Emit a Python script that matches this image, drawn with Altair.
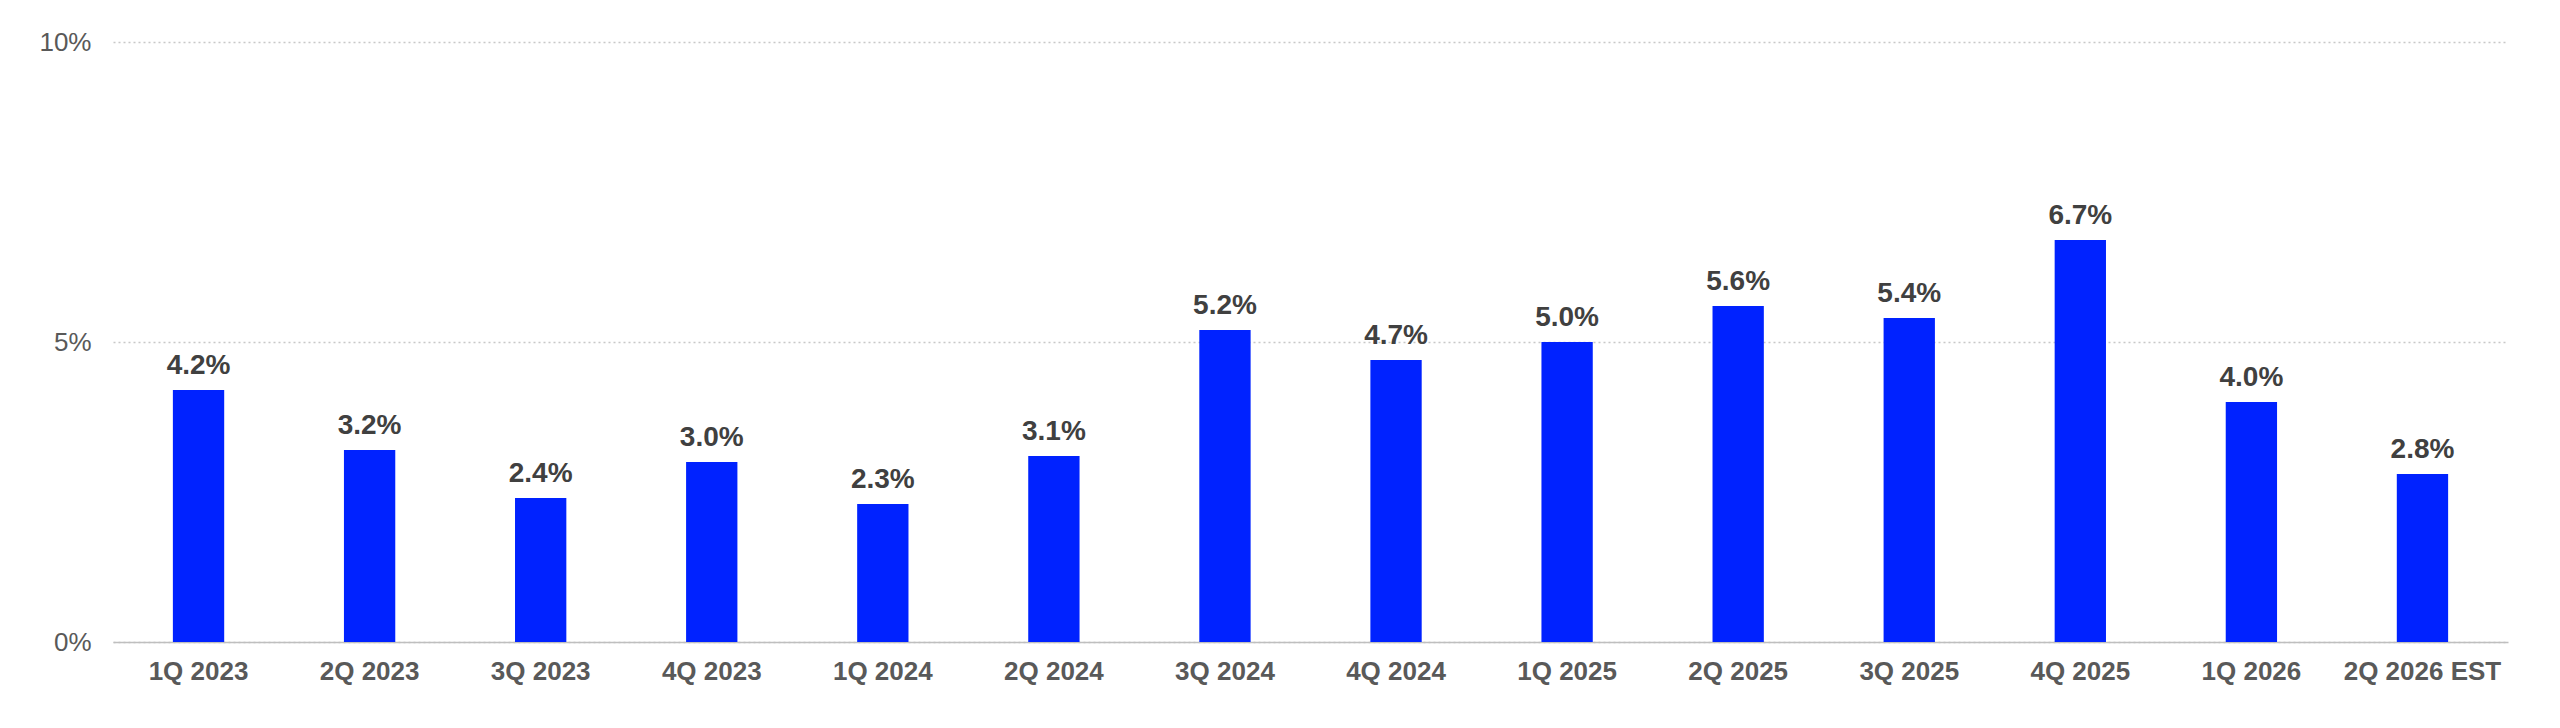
import altair as alt
import pandas as pd

quarters = ["1Q 2023", "2Q 2023", "3Q 2023", "4Q 2023", "1Q 2024", "2Q 2024", "3Q 2024",
            "4Q 2024", "1Q 2025", "2Q 2025", "3Q 2025", "4Q 2025", "1Q 2026", "2Q 2026 EST"]
values = [4.2, 3.2, 2.4, 3.0, 2.3, 3.1, 5.2, 4.7, 5.0, 5.6, 5.4, 6.7, 4.0, 2.8]

df = pd.DataFrame({"q": quarters, "v": [v / 100 for v in values]})
df["label"] = [f"{v:.1f}%" for v in values]

base = alt.Chart(df).encode(
    x=alt.X("q:N", sort=quarters, title=None,
            scale=alt.Scale(paddingInner=0.7, paddingOuter=0.35),
            axis=alt.Axis(labelAngle=0, labelFont="Liberation Sans", labelFontWeight="bold",
                          labelFontSize=26, labelColor="#595959", labelPadding=16,
                          ticks=False, domainColor="#bfbfbf", domainWidth=1.5)),
    y=alt.Y("v:Q", title=None,
            scale=alt.Scale(domain=[0, 0.1], nice=False),
            axis=alt.Axis(values=[0, 0.05, 0.1], format=".0%", labelFont="Liberation Sans",
                          labelFontSize=26, labelColor="#595959", labelPadding=22,
                          ticks=False, domain=False, gridColor="#c8c8c8", gridDash=[2, 3],
                          gridWidth=1.5)),
)

bars = base.mark_bar(color="#0022ff")
text = base.mark_text(dy=-24, font="Liberation Sans", fontWeight="bold", fontSize=28,
                      color="#404040").encode(text="label:N")

chart = (bars + text).properties(width=2395, height=600).configure_view(stroke=None)
chart = chart.properties(padding={"left": 30, "top": 21, "right": 20, "bottom": 5})
chart.save("out.html", embed_options={"renderer": "svg", "actions": False})
